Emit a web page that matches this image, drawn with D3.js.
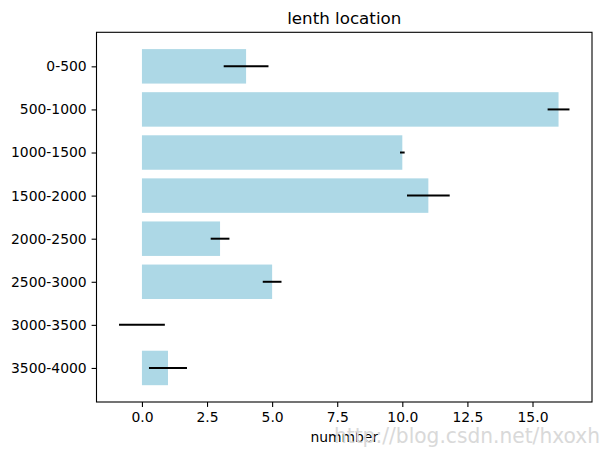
<!DOCTYPE html>
<html><head><meta charset="utf-8">
<script src="https://cdn.jsdelivr.net/npm/d3@7"></script>
<style>body{margin:0;background:#fff}svg{display:block}text{font-family:"DejaVu Sans",sans-serif}</style>
</head><body>
<script>
const categories = ["0-500","500-1000","1000-1500","1500-2000","2000-2500","2500-3000","3000-3500","3500-4000"];
const values = [4, 16, 10, 11, 3, 5, 0, 1];
const errors = [0.86, 0.42, 0.09, 0.82, 0.36, 0.36, 0.88, 0.73];
const xTicks = [0, 2.5, 5, 7.5, 10, 12.5, 15];
const title = "lenth location";
const xLabel = "nummber";
const watermark = "http://blog.csdn.net/hxoxh";

const W = 605, H = 455;
const m = {left: 96.5, right: 592, top: 32.3, bottom: 402};
const svg = d3.select("body").append("svg").attr("width", W).attr("height", H);

let lo = d3.min(values.map((v,i)=>Math.min(0, v - errors[i])));
let hi = d3.max(values.map((v,i)=>v + errors[i]));
const pad = (hi - lo) * 0.05;
const x = d3.scaleLinear().domain([lo - pad, hi + pad]).range([m.left, m.right]);
const n = categories.length;
const y = d3.scaleLinear().domain([-0.4 - 0.39, n - 1 + 0.4 + 0.39]).range([m.top, m.bottom]);
const bh = 0.8;

svg.append("g").selectAll("rect").data(values).join("rect")
  .attr("x", d => x(Math.min(0,d)))
  .attr("width", d => Math.abs(x(d) - x(0)))
  .attr("y", (d,i) => y(i - bh/2))
  .attr("height", (d,i) => y(i + bh/2) - y(i - bh/2))
  .attr("fill", "#add8e6");

svg.append("g").selectAll("line").data(values).join("line")
  .attr("x1", (d,i) => x(d - errors[i]))
  .attr("x2", (d,i) => x(d + errors[i]))
  .attr("y1", (d,i) => y(i)).attr("y2", (d,i) => y(i))
  .attr("stroke", "#000").attr("stroke-width", 2);

// frame
svg.append("rect").attr("x", m.left).attr("y", m.top)
  .attr("width", m.right - m.left).attr("height", m.bottom - m.top)
  .attr("fill", "none").attr("stroke", "#000").attr("stroke-width", 1.1);

const xa = d3.axisBottom(x).tickValues(xTicks).tickFormat(d3.format(".1f")).tickSize(4.9).tickPadding(4.9);
const gx = svg.append("g").attr("transform", `translate(0,${m.bottom})`).call(xa);
gx.select(".domain").remove();
gx.selectAll("line").attr("stroke-width", 1.1);
gx.selectAll("text").attr("font-size", 13.9).attr("fill", "#000").attr("font-family", "DejaVu Sans");

const ya = d3.axisLeft(y).tickValues(d3.range(n)).tickFormat(i => categories[i]).tickSize(4.9).tickPadding(4.9);
const gy = svg.append("g").attr("transform", `translate(${m.left},0)`).call(ya);
gy.select(".domain").remove();
gy.selectAll("line").attr("stroke-width", 1.1);
gy.selectAll("text").attr("font-size", 13.9).attr("fill", "#000").attr("font-family", "DejaVu Sans");

svg.append("text").attr("x", (m.left + m.right)/2).attr("y", 24)
  .attr("text-anchor", "middle").attr("font-size", 16.7).text(title);

svg.append("text").attr("x", (m.left + m.right)/2).attr("y", 442)
  .attr("text-anchor", "middle").attr("font-size", 13.9).text(xLabel);

svg.append("text").attr("x", 334).attr("y", 443)
  .attr("font-family", "Liberation Serif").attr("font-size", 21)
  .attr("textLength", 266).attr("lengthAdjust", "spacingAndGlyphs")
  .attr("fill", "#d9d9d9").text(watermark);
</script>
</body></html>
